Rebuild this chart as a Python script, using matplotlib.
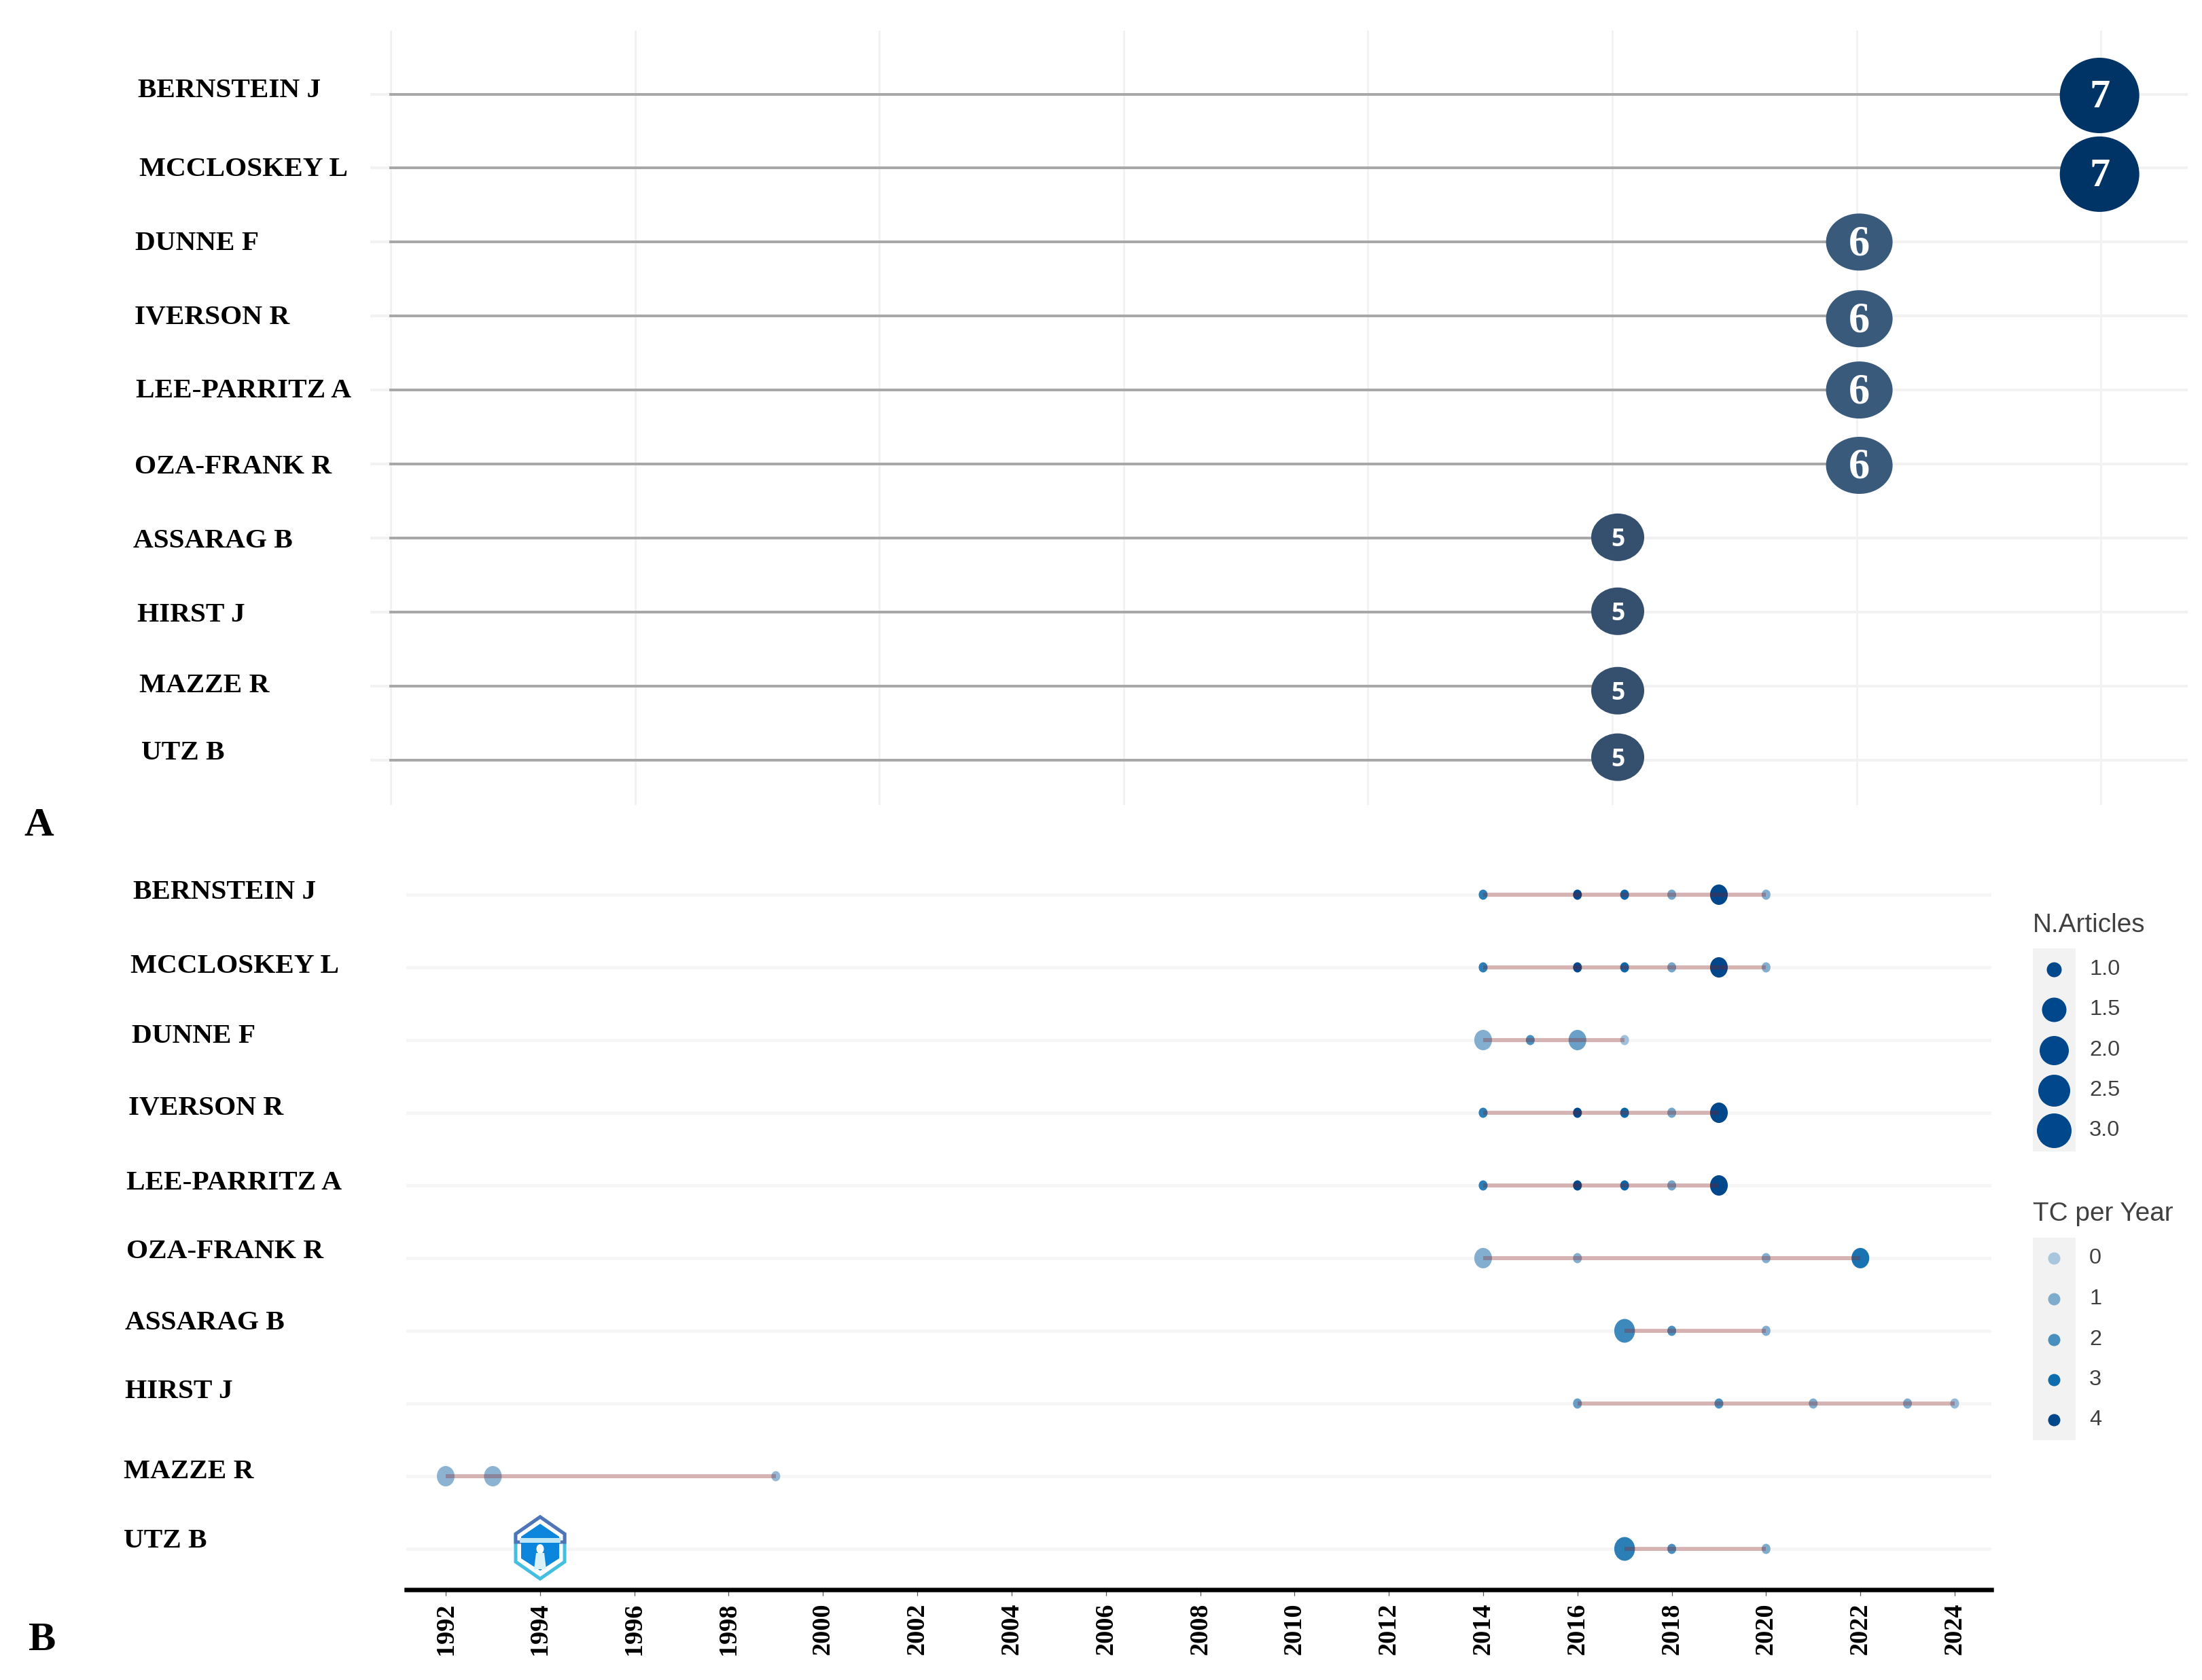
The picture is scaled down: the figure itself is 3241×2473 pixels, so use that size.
import matplotlib
matplotlib.use("Agg")
import matplotlib.pyplot as plt
from matplotlib.colors import LinearSegmentedColormap
from matplotlib.patches import Ellipse, Polygon, Rectangle
from matplotlib.path import Path
from matplotlib.transforms import Affine2D

W, H = 3241, 2473
DPI = 300
PX = 72 / DPI  # one pixel in points

authors = ["BERNSTEIN J", "MCCLOSKEY L", "DUNNE F", "IVERSON R", "LEE-PARRITZ A",
           "OZA-FRANK R", "ASSARAG B", "HIRST J", "MAZZE R", "UTZ B"]
h_index = [7, 7, 6, 6, 6, 6, 5, 5, 5, 5]

prod_years = [
    [2014, 2016, 2017, 2018, 2019, 2020],
    [2014, 2016, 2017, 2018, 2019, 2020],
    [2014, 2015, 2016, 2017],
    [2014, 2016, 2017, 2018, 2019],
    [2014, 2016, 2017, 2018, 2019],
    [2014, 2016, 2020, 2022],
    [2017, 2018, 2020],
    [2016, 2019, 2021, 2023, 2024],
    [1992, 1993, 1999],
    [2017, 2018, 2020],
]
prod_articles = [
    [1, 1, 1, 1, 2, 1],
    [1, 1, 1, 1, 2, 1],
    [2, 1, 2, 1],
    [1, 1, 1, 1, 2],
    [1, 1, 1, 1, 2],
    [2, 1, 1, 2],
    [3, 1, 1],
    [1, 1, 1, 1, 1],
    [2, 2, 1],
    [3, 1, 1],
]
prod_tc = [
    [2.5, 4, 3.2, 1.2, 4, 0.9],
    [2.5, 4, 3.2, 1.2, 4, 0.9],
    [0.9, 2, 1.4, 0.2],
    [2.5, 4, 3.2, 1.2, 4],
    [2.5, 4, 3.2, 1.2, 4],
    [0.9, 0.9, 0.9, 2.8],
    [2.2, 2, 0.9],
    [1.5, 2, 1, 1, 0.5],
    [0.7, 0.7, 0.5],
    [2.5, 2, 1],
]

size_levels = ["1.0", "1.5", "2.0", "2.5", "3.0"]
tc_levels = ["0", "1", "2", "3", "4"]
year_ticks = list(range(1992, 2025, 2))

# label corners in pixels, they wander a bit from row to row in the source
labels_a = [(203, 133), (205, 249), (199, 358), (198, 467), (200, 575),
            (198, 687), (196, 796), (202, 905), (205, 1009), (208, 1108)]
labels_b = [(196, 1313), (192, 1422), (194, 1525), (189, 1631), (186, 1741),
            (186, 1842), (184, 1947), (184, 2048), (182, 2166), (182, 2269)]
bubble_shift = [2, 9, 0, 4, 0, 2, -1, -1, 7, -4]
bubble_nudge = {7: -2, 6: 4, 5: 8}

SERIF = "Liberation Serif"
SANS = "Liberation Sans"
tc_cmap = LinearSegmentedColormap.from_list(
    "tc", ["#a9c6dd", "#7fabcd", "#4a90bf", "#0f6cae", "#00478c"])
TALL_DOT = Path.unit_circle().transformed(Affine2D().scale(0.87, 1))


def add_axes_px(fig, left, top, right, bottom):
    return fig.add_axes([left / W, 1 - bottom / H, (right - left) / W, (bottom - top) / H])


def draw_panel_a(fig):
    ax = add_axes_px(fig, 545, 45, 3220, 1185)
    x_unit, y_unit = 359.6, 108.9
    ax.set_xlim(-30 / x_unit, 2645 / x_unit)
    ax.set_ylim((1185 - 138.5) / y_unit, (45 - 138.5) / y_unit)
    ax.axis("off")

    for i in range(8):
        ax.plot([i, i], ax.get_ylim(), color="#f2f2f2", lw=3 * PX, zorder=1)

    for row, value in enumerate(h_index):
        ax.plot(ax.get_xlim(), [row, row], color="#f2f2f2", lw=4 * PX, zorder=1)
        ax.plot([0, value], [row, row], color="#a8a8a8", lw=4 * PX, zorder=2)

        if value == 7:
            color, w, h, size, family = "#003366", 117, 111, 14.5, SERIF
        elif value == 6:
            color, w, h, size, family = "#3a5a7c", 98, 84, 15, SERIF
        else:
            color, w, h, size, family = "#34506e", 78, 70, 8.5, "Open Sans"
        x = value + bubble_nudge[value] / x_unit
        y = row + bubble_shift[row] / y_unit
        ax.add_patch(Ellipse((x, y), w / x_unit, h / y_unit,
                             facecolor=color, edgecolor="none", zorder=3))
        ax.text(x, y + 4 / y_unit, str(value), color="white", fontsize=size, fontweight="bold",
                family=family, ha="center", va="center", zorder=4)


def draw_panel_b(fig):
    ax = add_axes_px(fig, 598, 1280, 2931, 2340)
    x_unit, y_unit = 69.4, 107.0
    ax.set_xlim(1992 - 58 / x_unit, 2024 + 54 / x_unit)
    ax.set_ylim((2340 - 1317) / y_unit, (1280 - 1317) / y_unit)

    for side in ["top", "left", "right"]:
        ax.spines[side].set_visible(False)
    ax.spines["bottom"].set_linewidth(6.5 * PX)
    ax.spines["bottom"].set_color("black")

    ax.set_yticks([])
    ax.set_xticks(year_ticks)
    ax.set_xticklabels(year_ticks, rotation=90, family=SERIF, fontweight="bold", fontsize=9.2)
    ax.tick_params(axis="x", length=2.2, width=0.3, color="#555555", pad=2.6)

    heights = {1: 15, 2: 30, 3: 35}
    for row in range(len(authors)):
        ax.plot(ax.get_xlim(), [row, row], color="#f6f6f6", lw=5 * PX, zorder=1)
        years = prod_years[row]
        sizes = [(heights[n] * PX) ** 2 for n in prod_articles[row]]
        ax.scatter(years, [row] * len(years), s=sizes, c=prod_tc[row], cmap=tc_cmap,
                   marker=TALL_DOT, vmin=0, vmax=4, linewidths=0, zorder=2)
        # the line sits on top of the dots, that is what makes the small ones look grey
        ax.plot([years[0], years[-1]], [row, row], color="#8b1a1a", alpha=0.3,
                lw=6 * PX, solid_capstyle="butt", zorder=3)


def draw_overlay(fig):
    ov = fig.add_axes([0, 0, 1, 1])
    ov.set_xlim(0, W)
    ov.set_ylim(H, 0)
    ov.axis("off")
    ov.patch.set_alpha(0)

    for name, (x, y) in zip(authors, labels_a):
        ov.text(x, y, name, family=SERIF, fontweight="bold", fontsize=9.9, va="center", color="black")
    for name, (x, y) in zip(authors, labels_b):
        ov.text(x, y, name, family=SERIF, fontweight="bold", fontsize=9.9, va="center", color="black")
    ov.text(35, 1216, "A", family=SERIF, fontweight="bold", fontsize=14.5, va="center")
    ov.text(42, 2415, "B", family=SERIF, fontweight="bold", fontsize=14.5, va="center")

    # legends
    ov.text(2992, 1362, "N.Articles", family=SANS, fontsize=9.3, color="#404040", va="center")
    ov.add_patch(Rectangle((2992, 1396), 63, 299, facecolor="#f2f2f2", edgecolor="none"))
    key_sizes = [22, 36, 43, 47, 51]
    key_y = [1427, 1486, 1546, 1605, 1664]
    for label, d, y in zip(size_levels, key_sizes, key_y):
        ov.scatter([3023], [y], s=(d * PX) ** 2, color="#00478c", linewidths=0)
        ov.text(3075, y, label, family=SANS, fontsize=7.8, color="#404040", va="center")

    ov.text(2992, 1787, "TC per Year", family=SANS, fontsize=9.3, color="#404040", va="center")
    ov.add_patch(Rectangle((2992, 1822), 63, 298, facecolor="#f2f2f2", edgecolor="none"))
    key_y = [1852, 1912, 1972, 2031, 2090]
    for k, (label, y) in enumerate(zip(tc_levels, key_y)):
        ov.scatter([3023], [y], s=(18 * PX) ** 2, color=tc_cmap(k / 4), linewidths=0)
        ov.text(3075, y, label, family=SANS, fontsize=7.8, color="#404040", va="center")

    # watermark badge sitting over 1994 in the UTZ B row
    cx = 795
    ov.add_patch(Polygon([(cx, 2233), (cx + 36, 2258), (cx + 36, 2299), (cx, 2324), (cx - 36, 2299), (cx - 36, 2258)],
                         facecolor="white", edgecolor="#45bfe0", lw=5 * PX, zorder=5))
    ov.add_patch(Polygon([(cx, 2233), (cx + 36, 2258), (cx + 36, 2270), (cx - 36, 2270), (cx - 36, 2258)],
                         facecolor="white", edgecolor="#4f74b8", lw=5 * PX, zorder=5))
    ov.add_patch(Polygon([(cx, 2243), (cx + 28, 2262), (cx + 28, 2294), (cx, 2312), (cx - 28, 2294), (cx - 28, 2262)],
                         facecolor="#0b86dc", edgecolor="none", zorder=6))
    ov.add_patch(Rectangle((cx - 30, 2264), 60, 7, facecolor="#bfe6f5", edgecolor="none", zorder=7))
    ov.add_patch(Ellipse((cx, 2280), 11, 14, facecolor="white", edgecolor="none", zorder=7))
    ov.add_patch(Polygon([(cx - 6, 2286), (cx + 6, 2286), (cx + 9, 2310), (cx - 9, 2310)],
                         facecolor="#d8f2f7", edgecolor="none", zorder=7))


def main():
    fig = plt.figure(figsize=(W / DPI, H / DPI), dpi=DPI, facecolor="white")
    draw_panel_a(fig)
    draw_panel_b(fig)
    draw_overlay(fig)
    fig.savefig("out.png", dpi=DPI)
    plt.close(fig)


if __name__ == "__main__":
    main()
